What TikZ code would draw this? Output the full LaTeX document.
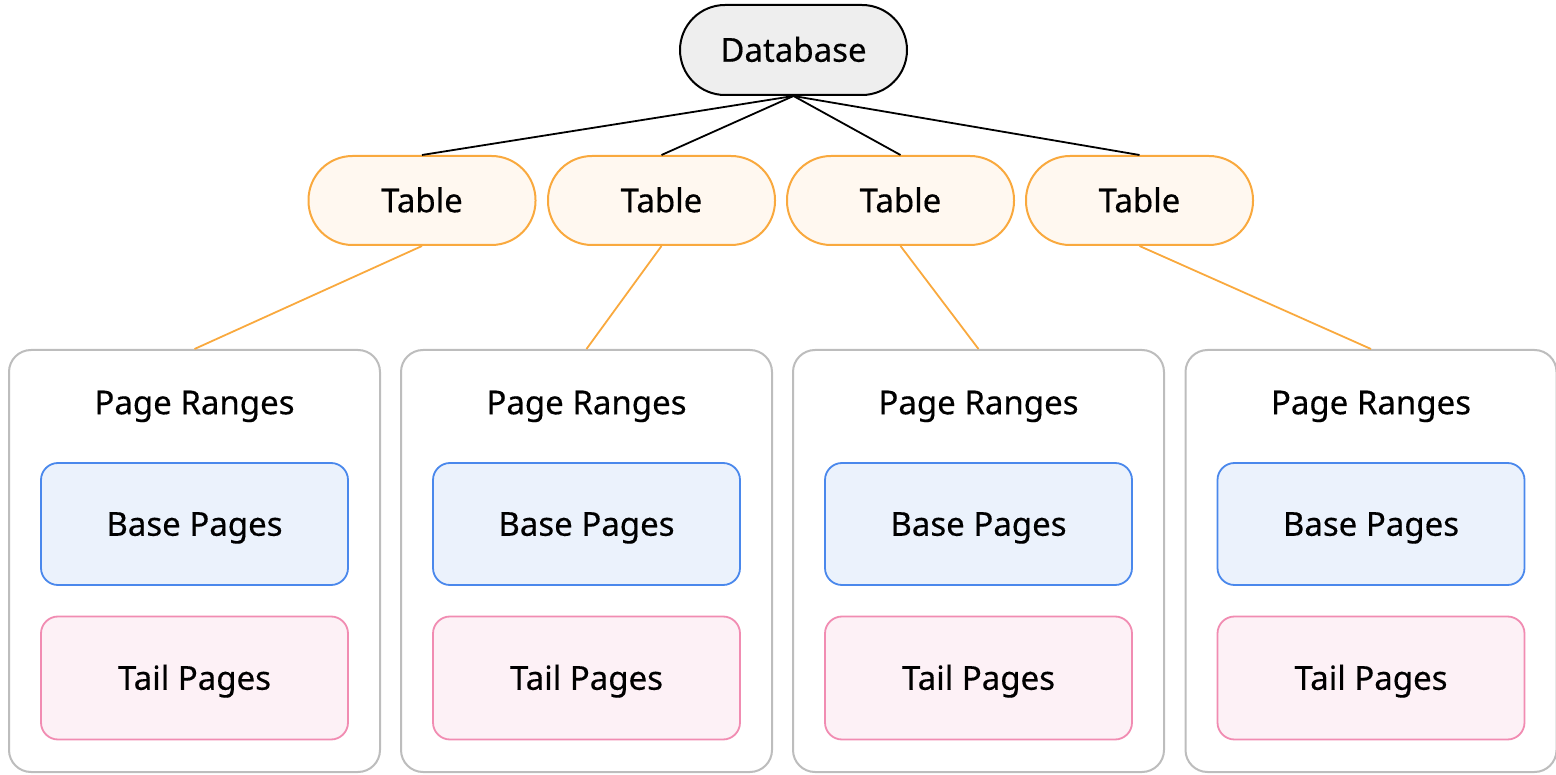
\documentclass[tikz,border=0pt]{standalone}
\usepackage{fontspec}
\setmainfont{Noto Sans}[FakeBold=0.4]
\definecolor{dbfill}{HTML}{EEEEEE}
\definecolor{tblfill}{HTML}{FFF8F0}
\definecolor{tbldraw}{HTML}{F9A93E}
\definecolor{rangedraw}{HTML}{BDBDBD}
\definecolor{basefill}{HTML}{EBF2FC}
\definecolor{basedraw}{HTML}{4A88EC}
\definecolor{tailfill}{HTML}{FDF1F6}
\definecolor{taildraw}{HTML}{F18CB2}
\tikzset{
  label text/.style={font=\fontsize{33}{40}\selectfont, text height=23.5pt, text depth=0pt, inner sep=0pt},
  dbbox/.style={label text, draw=black, line width=2pt, fill=dbfill, rounded corners=45,
    minimum width=227, minimum height=90},
  tblbox/.style={label text, draw=tbldraw, line width=2pt, fill=tblfill, rounded corners=44,
    minimum width=227, minimum height=89},
  rangebox/.style={draw=rangedraw, line width=2pt, fill=white, rounded corners=22,
    minimum width=371, minimum height=422, inner sep=0pt},
  basebox/.style={label text, draw=basedraw, line width=1.8pt, fill=basefill, rounded corners=17,
    minimum width=307, minimum height=122},
  tailbox/.style={label text, draw=taildraw, line width=1.8pt, fill=tailfill, rounded corners=17,
    minimum width=307, minimum height=123},
  dblink/.style={draw=black, line width=1.8pt},
  tbllink/.style={draw=tbldraw, line width=1.8pt},
}
\begin{document}
\begin{tikzpicture}[x=1pt, y=-1pt]
  \useasboundingbox (0,0) rectangle (1556,775);

  % root
  \node[dbbox] (db) at (793.5,50) {Database};

  % tables
  \foreach \i/\x in {1/422, 2/661.5, 3/900.5, 4/1139.5}
    \node[tblbox] (t\i) at (\x,200.5) {Table};

  % page-range groups
  \foreach \i/\x in {1/194.5, 2/586.5, 3/978.5, 4/1371}{
    \node[rangebox] (pr\i) at (\x,561) {};
    \node[label text] (prl\i) at (\x,402.5) {Page Ranges};
    \node[basebox] (bp\i) at (\x,524) {Base Pages};
    \node[tailbox] (tp\i) at (\x,678) {Tail Pages};
  }

  % connectors
  \foreach \i in {1,...,4}{
    \draw[dblink] (db.south) -- (t\i.north);
    \draw[tbllink] (t\i.south) -- (pr\i.north);
  }
\end{tikzpicture}
\end{document}
